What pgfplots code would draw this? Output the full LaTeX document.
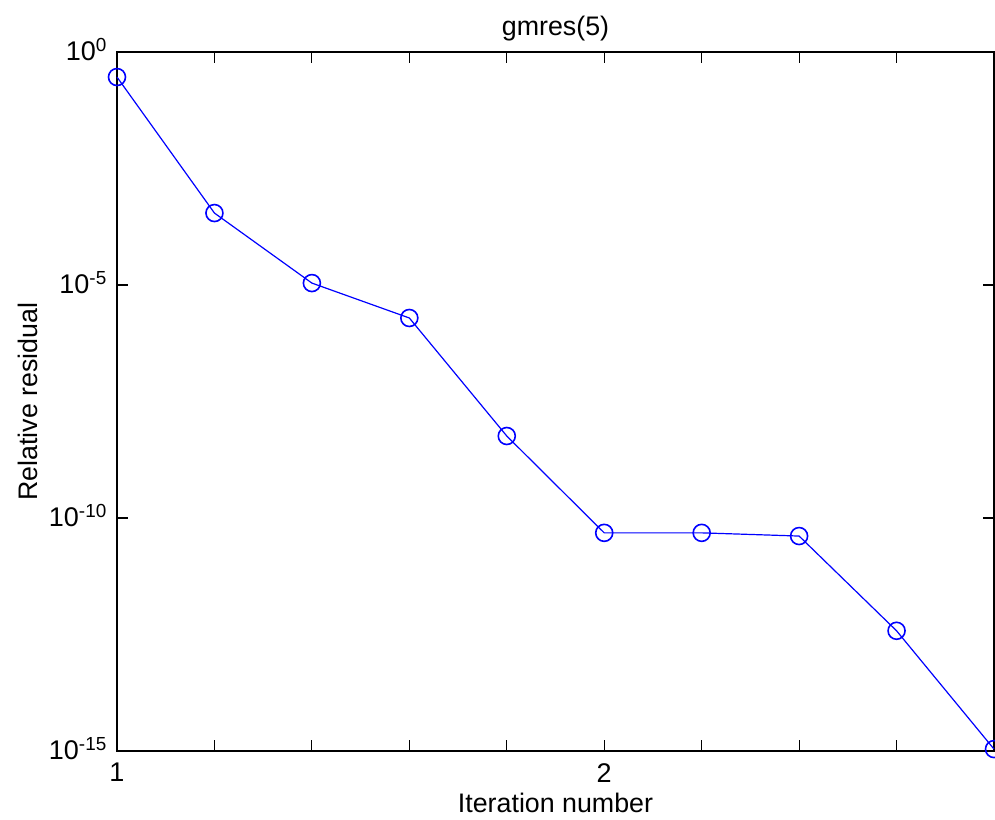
\documentclass[border=0pt]{standalone}
\usepackage{pgfplots}
\pgfplotsset{compat=1.18}
\usepackage{fontspec}
\setmainfont{Liberation Sans}
\newcommand\f{\fontsize{26.8bp}{31bp}\selectfont}
\newcommand\ft{\fontsize{27bp}{31bp}\selectfont}
\begin{document}
\begin{tikzpicture}
\useasboundingbox (-117bp,-69bp) rectangle (878bp,751bp);
\begin{axis}[
  at={(0,0)}, anchor=south west,
  scale only axis, width=877bp, height=699bp,
  xmin=1, xmax=2.8, ymode=log, ymin=1e-15, ymax=1,
  clip=false,
  axis line style={line width=1.3bp, black},
  every tick/.style={black, line width=1.1bp},
  tick align=inside, major tick length=11bp,
  xtick={1,1.2,1.4,1.6,1.8,2,2.2,2.4,2.6,2.8},
  xticklabels={1,,,,,2,,,,},
  ytick={1e0,1e-5,1e-10,1e-15},
  yticklabels={10\textsuperscript{0},10\textsuperscript{-5},10\textsuperscript{-10},10\textsuperscript{-15}},
  yminorticks=false,
  xticklabel style={font=\ft, anchor=north, inner sep=0pt, yshift=-12bp},
  yticklabel style={font=\ft, anchor=base east, inner sep=0pt, xshift=-10bp, yshift=-8bp},
  title={gmres(5)},
  title style={font=\f, at={(0.5,1)}, anchor=base, yshift=11bp, inner sep=0pt},
  xlabel={Iteration number},
  xlabel style={font=\f, at={(0.5,0)}, anchor=base, yshift=-61bp, inner sep=0pt},
  ylabel={Relative residual},
  ylabel style={font=\f, at={(axis description cs:-0.0912,0.5)}, anchor=base, inner sep=0pt},
]
\addplot[color={rgb,255:red,0;green,0;blue,255}, line width=1.2bp, mark=o,
  mark options={line width=1.6bp, solid}, mark size=8.5bp] coordinates {
  (1.0, 2.9e-1)
  (1.2, 3.5e-4)
  (1.4, 1.1e-5)
  (1.6, 1.96e-6)
  (1.8, 5.75e-9)
  (2.0, 4.8e-11)
  (2.2, 4.8e-11)
  (2.4, 4.1e-11)
  (2.6, 3.8e-13)
  (2.8, 1.1e-15)
};
\end{axis}
\end{tikzpicture}
\end{document}
